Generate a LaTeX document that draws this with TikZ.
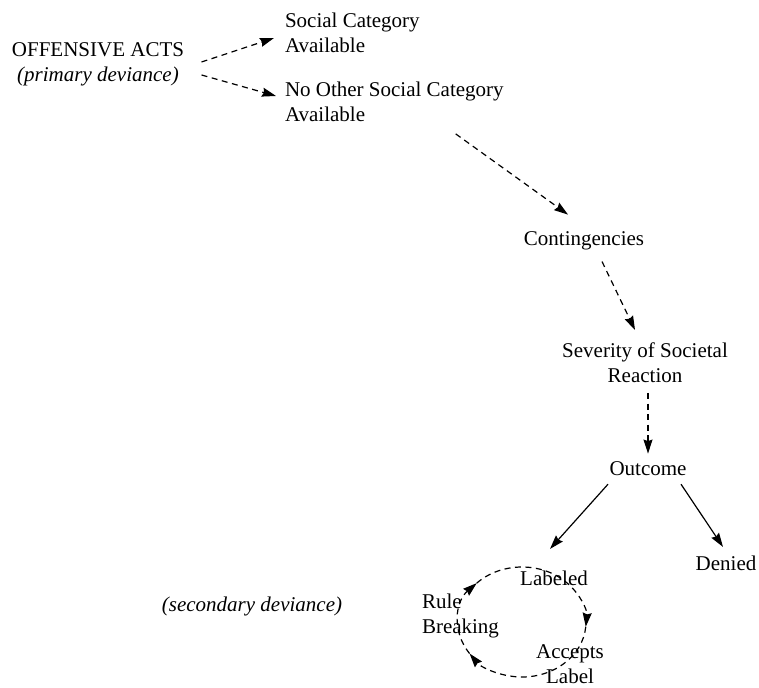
\documentclass[tikz,border=0pt]{standalone}
\usepackage{fontspec}
\setmainfont{Liberation Serif}
\usetikzlibrary{arrows.meta}
\begin{document}
\begin{tikzpicture}[x=1pt,y=1pt,
  lbl/.style={inner sep=0pt,outer sep=0pt,font=\fontsize{21}{25}\selectfont},
  tip/.style={-{Stealth[length=14pt,width=9pt,inset=1.5pt]}},
  dar/.style={tip,line width=1.2pt,dash pattern=on 6pt off 4.5pt},
  sar/.style={tip,line width=1.2pt}]
\useasboundingbox (0,0) rectangle (759,-687);
% nodes
\node[lbl,align=center] (off) at (98,-64.5) {OFFENSIVE ACTS\\\textit{(primary deviance)}};
\node[lbl,align=left,anchor=west] (soc) at (285,-33) {Social Category\\Available};
\node[lbl,align=left,anchor=west] (noc) at (285,-102) {No Other Social Category\\Available};
\node[lbl,anchor=base] (cont) at (584,-245) {Contingencies};
\node[lbl,align=center] (sev) at (645,-363) {Severity of Societal\\Reaction};
\node[lbl,anchor=base] (out) at (648,-475) {Outcome};
\node[lbl,anchor=base] (den) at (726,-570) {Denied};
\node[lbl,anchor=base] (lab) at (554,-585) {Labeled};
\node[lbl,align=left,anchor=west] (rb) at (422,-615.5) {Rule\\Breaking};
\node[lbl,align=center] (acc) at (570,-664) {Accepts\\Label};
\node[lbl,anchor=base] (sec) at (252,-611) {\textit{(secondary deviance)}};
% connectors
\draw[dar] ([shift={(17.5,2.5)}]off.east) -- ([shift={(-11,-5)}]soc.west);
\draw[dar] ([shift={(17.5,-10.5)}]off.east) -- ([shift={(-9,6)}]noc.west);
\draw[dar] ([shift={(-48,-12)}]noc.south east) -- ([shift={(-16,16.5)}]cont.north);
\draw[dar] ([shift={(18,-12)}]cont.south) -- ([shift={(-10,13)}]sev.north);
\draw[dar] ([shift={(3,-10)}]sev.south) -- ([shift={(0,7.5)}]out.north);
\draw[sar] ([shift={(-40,-9)}]out.south) -- ([shift={(-4,21.5)}]lab.north);
\draw[sar] ([shift={(33,-9)}]out.south) -- ([shift={(-3,8.5)}]den.north);
% cycle
\coordinate (c215) at (469.57,-653.55);
\coordinate (c135) at (476.75,-583.11);
\coordinate (c355) at (585.76,-626.79);
\draw[dar] (c215) arc[start angle=215, end angle=135, x radius=64, y radius=55];
\draw[dar] (c135) arc[start angle=135, end angle=-5, x radius=64, y radius=55];
\draw[dar] (c355) arc[start angle=355, end angle=215, x radius=64, y radius=55];
\end{tikzpicture}
\end{document}
